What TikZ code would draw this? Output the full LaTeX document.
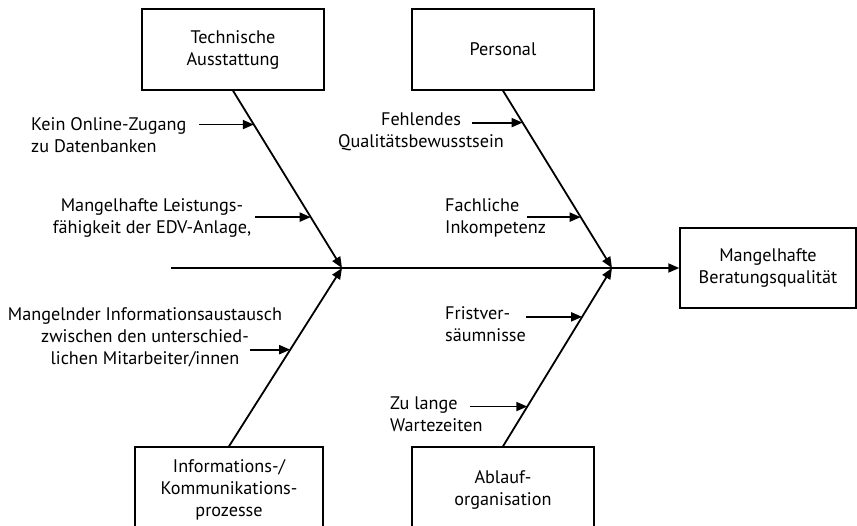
\documentclass[tikz,border=0pt]{standalone}
\usepackage{fontspec}
\setmainfont{PT Sans}
\usetikzlibrary{arrows.meta,calc}
\begin{document}
\begin{tikzpicture}[x=1pt,y=-1pt,
  box/.style={draw,line width=1.4pt,inner sep=0pt,align=center,font=\fontsize{18.2}{22}\selectfont},
  lbl/.style={inner sep=0pt,font=\fontsize{18.2}{22}\selectfont},
  arr/.style={line width=1.8pt,-{Triangle[length=11pt,width=9pt]}}]
\useasboundingbox (0,0) rectangle (857,525);
% boxes
\node[box,minimum width=182pt,minimum height=81pt] (ta) at (233,49.5) {Technische\\Ausstattung};
\node[box,minimum width=182pt,minimum height=81pt] (pe) at (503,49.5) {Personal};
\node[box,minimum width=176pt,minimum height=80pt] (res) at (768,268) {Mangelhafte\\Beratungsqualit\"at};
\node[box,minimum width=188pt,minimum height=86pt] (ik) at (229,490) {Informations-/\\Kommunikations-\\prozesse};
\node[box,minimum width=182pt,minimum height=86pt] (ab) at (503,490) {Ablauf-\\organisation};
% spine
\coordinate (sp) at (171,268);
\coordinate (j1) at (342,268);
\coordinate (j2) at (612,268);
\draw[arr] (sp) -- (res.west);
% bones
\draw[arr] (ta.south) -- (j1);
\draw[arr] (pe.south) -- (j2);
\draw[arr] (ik.north) -- (j1);
\draw[arr] (ab.north) -- (j2);
% points on bones
\coordinate (p1) at ($(ta.south)!0.191!(j1)$);
\coordinate (p2) at ($(ta.south)!0.713!(j1)$);
\coordinate (p3) at ($(pe.south)!0.18!(j2)$);
\coordinate (p4) at ($(pe.south)!0.713!(j2)$);
\coordinate (p5) at ($(ik.north)!0.542!(j1)$);
\coordinate (p6) at ($(ab.north)!0.726!(j2)$);
\coordinate (p7) at ($(ab.north)!0.223!(j2)$);
% starts
\coordinate (s1) at (199,0);
\coordinate (s2) at (255,0);
\coordinate (s3) at (472,0);
\coordinate (s4) at (527,0);
\coordinate (s5) at (250,0);
\coordinate (s6) at (526,0);
\coordinate (s7) at (470,0);
\draw[arr] (s1 |- p1) -- (p1);
\draw[arr] (s2 |- p2) -- (p2);
\draw[arr] (s3 |- p3) -- (p3);
\draw[arr] (s4 |- p4) -- (p4);
\draw[arr] (s5 |- p5) -- (p5);
\draw[arr] (s6 |- p6) -- (p6);
\draw[arr] (s7 |- p7) -- (p7);
% labels
\node[lbl,align=left,anchor=west] (l1) at (31,135) {Kein Online-Zugang\\zu Datenbanken};
\node[lbl,align=center] (l2) at (152,218) {Mangelhafte Leistungs-\\f\"ahigkeit der EDV-Anlage,};
\node[lbl,align=center] (l3) at (421,132) {Fehlendes\\Qualit\"atsbewusstsein};
\node[lbl,align=left,anchor=west] (l4) at (445,218) {Fachliche\\Inkompetenz};
\node[lbl,align=center] (l5) at (145,337) {Mangelnder Informationsaustausch\\zwischen den unterschied-\\lichen Mitarbeiter/innen};
\node[lbl,align=left,anchor=west] (l6) at (445,324) {Fristver-\\s\"aumnisse};
\node[lbl,align=left,anchor=west] (l7) at (390,414) {Zu lange\\Wartezeiten};
\end{tikzpicture}
\end{document}
